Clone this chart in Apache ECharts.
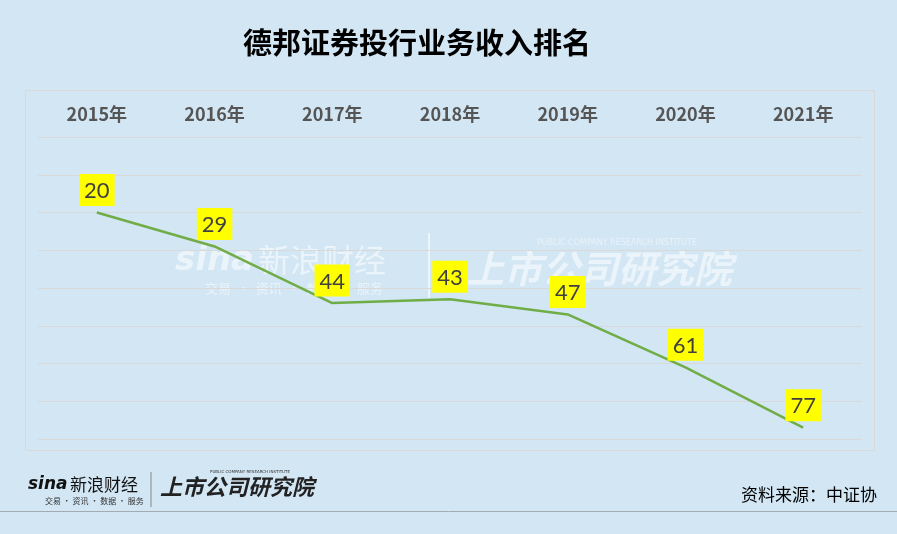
<!DOCTYPE html>
<html>
<head>
<meta charset="utf-8">
<script src="https://cdn.jsdelivr.net/npm/echarts@6/dist/echarts.min.js"></script>
<style>
html,body{margin:0;padding:0;background:#d2e6f4;}
#main{width:897px;height:534px;}
</style>
</head>
<body>
<div id="main"></div>
<script>
var titleText = '德邦证券投行业务收入排名';
var categories = ['2015年','2016年','2017年','2018年','2019年','2020年','2021年'];
var ranks = [20, 29, 44, 43, 47, 61, 77];
var sourceText = '资料来源：中证协';

var chart = echarts.init(document.getElementById('main'));
chart.setOption({
  backgroundColor: '#d2e6f4',
  animation: false,
  title: {
    text: titleText,
    left: 238, top: 23,
    textStyle: {fontFamily: 'Noto Sans CJK SC', fontWeight: 'bold', fontSize: 29, color: '#000'}
  },
  grid: {left: 38, right: 35, top: 137, bottom: 95},
  xAxis: {
    type: 'category', position: 'top', data: categories, boundaryGap: true,
    axisLine: {show: false}, axisTick: {show: false},
    axisLabel: {margin: 14, fontFamily: 'Noto Sans CJK SC', fontWeight: 'bold', fontSize: 18, color: '#555555'}
  },
  yAxis: {
    type: 'value', inverse: true, min: 0, max: 80, interval: 10,
    axisLabel: {show: false}, axisLine: {show: false}, axisTick: {show: false},
    splitLine: {lineStyle: {color: '#d9d9d9', width: 1}}
  },
  series: [{
    type: 'line', data: ranks, symbol: 'circle', symbolSize: 1, showSymbol: true,
    itemStyle: {color: 'rgba(0,0,0,0)'},
    lineStyle: {color: '#70ad47', width: 2.5},
    label: {
      show: true, position: 'top', distance: 6,
      backgroundColor: '#ffff00', padding: [6, 5, 4, 5],
      fontFamily: 'Lato', fontSize: 22, color: '#404040'
    },
    z: 3
  }],
  graphic: [
    {type: 'rect', shape: {x: 25.5, y: 90.5, width: 849, height: 360}, style: {fill: 'none', stroke: '#d9d9d9', lineWidth: 1}, z: -1},
    {type: 'line', shape: {x1: 0, y1: 511.5, x2: 897, y2: 511.5}, style: {stroke: '#a2aab2', lineWidth: 1}},
    {type: 'text', right: 20, top: 486, style: {text: sourceText, font: '17px "Noto Sans CJK SC"', fill: '#000'}},
    // footer logos
    {type: 'text', left: 28, top: 476, style: {text: 'sina', font: 'italic bold 17px "DejaVu Sans"', fill: '#111'}},
    {type: 'text', left: 70, top: 476, style: {text: '新浪财经', font: '17px "Noto Sans CJK SC"', fill: '#111'}},
    {type: 'text', left: 45, top: 497, style: {text: '交易 · 资讯 · 数据 · 服务', font: '8px "Noto Sans CJK SC"', fill: '#333'}},
    {type: 'line', shape: {x1: 151, y1: 472, x2: 151, y2: 507}, style: {stroke: '#888', lineWidth: 1}},
    {type: 'text', left: 160, top: 476, style: {text: '上市公司研究院', font: 'italic bold 22px "Noto Sans CJK SC"', fill: '#222'}},
    {type: 'text', left: 210, top: 470, style: {text: 'PUBLIC COMPANY RESEARCH INSTITUTE', font: '4px "DejaVu Sans"', fill: '#333'}},
    // watermark
    {type: 'text', left: 175, top: 244, style: {text: 'sina', font: 'italic bold 34px "DejaVu Sans"', fill: 'rgba(255,255,255,0.55)'}},
    {type: 'text', left: 258, top: 244, style: {text: '新浪财经', font: '32px "Noto Sans CJK SC"', fill: 'rgba(255,255,255,0.55)'}},
    {type: 'text', left: 205, top: 282, style: {text: '交易  ·  资讯  ·  数据  ·  服务', font: '13px "Noto Sans CJK SC"', fill: 'rgba(255,255,255,0.55)'}},
    {type: 'line', shape: {x1: 429, y1: 233, x2: 429, y2: 298}, style: {stroke: 'rgba(255,255,255,0.6)', lineWidth: 2}},
    {type: 'text', left: 466, top: 250, style: {text: '上市公司研究院', font: 'italic bold 38px "Noto Sans CJK SC"', fill: 'rgba(255,255,255,0.55)'}},
    {type: 'text', left: 537, top: 239, style: {text: 'PUBLIC COMPANY RESEARCH INSTITUTE', font: '8px "DejaVu Sans"', fill: 'rgba(255,255,255,0.5)'}}
  ]
});
</script>
</body>
</html>
